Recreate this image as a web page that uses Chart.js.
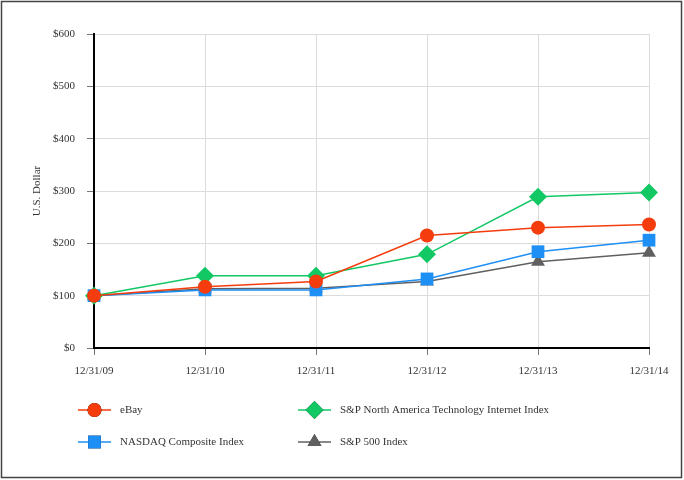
<!DOCTYPE html>
<html>
<head>
<meta charset="utf-8">
<script src="https://cdn.jsdelivr.net/npm/chart.js@4"></script>
<style>
    html, body { margin: 0; padding: 0; background: #fff; }
    #wrap { width: 684px; height: 480px; position: relative; }
</style>
</head>
<body>
<div id="wrap"><canvas id="chart"></canvas></div>
<script>
// Данные графика
const labels = ["12/31/09", "12/31/10", "12/31/11", "12/31/12", "12/31/13", "12/31/14"];
const ebay = [100, 117, 127, 215, 230, 236];
const techInternet = [100, 138, 138, 179, 289, 297];
const nasdaq = [100, 111, 111, 132, 184, 206];
const sp500 = [100, 113, 114, 127, 165, 182];

const FONT = "'Liberation Serif', 'Times New Roman', serif";

// Легенда в две колонки, как в оригинале
const legendPlugin = {
    id: "gridLegend",
    afterDraw(chart) {
        const ctx = chart.ctx;
        const cols = [78, 298];
        const rows = [410, 442];
        chart.data.datasets.forEach((ds, i) => {
            const x = cols[i % 2];
            const y = rows[Math.floor(i / 2)];
            ctx.save();
            ctx.strokeStyle = ds.borderColor;
            ctx.lineWidth = 1.5;
            ctx.beginPath();
            ctx.moveTo(x, y);
            ctx.lineTo(x + 33, y);
            ctx.stroke();
            Chart.helpers.drawPoint(ctx, {
                pointStyle: ds.pointStyle,
                radius: ds.pointRadius,
                rotation: 0,
                borderWidth: 0,
            }, x + 16.5, y);
            ctx.fillStyle = ds.pointBackgroundColor;
            ctx.fill();
            ctx.fillStyle = "#333";
            ctx.font = "11px " + FONT;
            ctx.textBaseline = "middle";
            ctx.fillText(ds.label, x + 42, y);
            ctx.restore();
        });
        // рамка вокруг картинки
        ctx.save();
        ctx.strokeStyle = "#444";
        ctx.lineWidth = 1.5;
        ctx.strokeRect(1.5, 1.5, 680, 476);
        ctx.restore();
    },
};

function makeSet(label, data, color, style, radius) {
    return {
        label: label,
        data: data,
        borderColor: color,
        backgroundColor: color,
        pointBackgroundColor: color,
        pointBorderColor: color,
        pointBorderWidth: 0,
        pointStyle: style,
        pointRadius: radius,
        pointHoverRadius: radius,
        borderWidth: 1.5,
        tension: 0,
    };
}

new Chart(document.getElementById("chart"), {
    type: "line",
    data: {
        labels: labels,
        datasets: [
            makeSet("eBay", ebay, "#f53c0c", "circle", 7),
            makeSet("S&P North America Technology Internet Index", techInternet, "#12c865", "rectRot", 9),
            makeSet("NASDAQ Composite Index", nasdaq, "#1e8ff5", "rect", 9),
            makeSet("S&P 500 Index", sp500, "#606060", "triangle", 8),
        ],
    },
    options: {
        responsive: true,
        maintainAspectRatio: false,
        animation: false,
        devicePixelRatio: 1,
        layout: { padding: { left: 0, top: 34, right: 35, bottom: 0 } },
        plugins: {
            legend: { display: false },
            tooltip: { enabled: false },
        },
        scales: {
            x: {
                offset: false,
                afterFit: (s) => { s.height = 132; },
                grid: { color: "#dcdcdc", tickColor: "#777", tickLength: 7, lineWidth: 1 },
                border: { color: "#000", width: 2 },
                ticks: { color: "#333", font: { family: FONT, size: 11 }, padding: 10, maxRotation: 0 },
            },
            y: {
                min: 0,
                max: 600,
                afterFit: (s) => { s.width = 94; },
                grid: { color: "#dcdcdc", tickColor: "#777", tickLength: 7, lineWidth: 1 },
                border: { color: "#000", width: 2 },
                ticks: {
                    stepSize: 100,
                    color: "#333",
                    padding: 12,
                    font: { family: FONT, size: 11 },
                    callback: (v) => "$" + v,
                },
                title: {
                    display: true,
                    text: "U.S. Dollar",
                    color: "#333",
                    font: { family: FONT, size: 11 },
                    padding: { top: 31, bottom: 0 },
                },
            },
        },
    },
    plugins: [legendPlugin],
});
</script>
</body>
</html>
